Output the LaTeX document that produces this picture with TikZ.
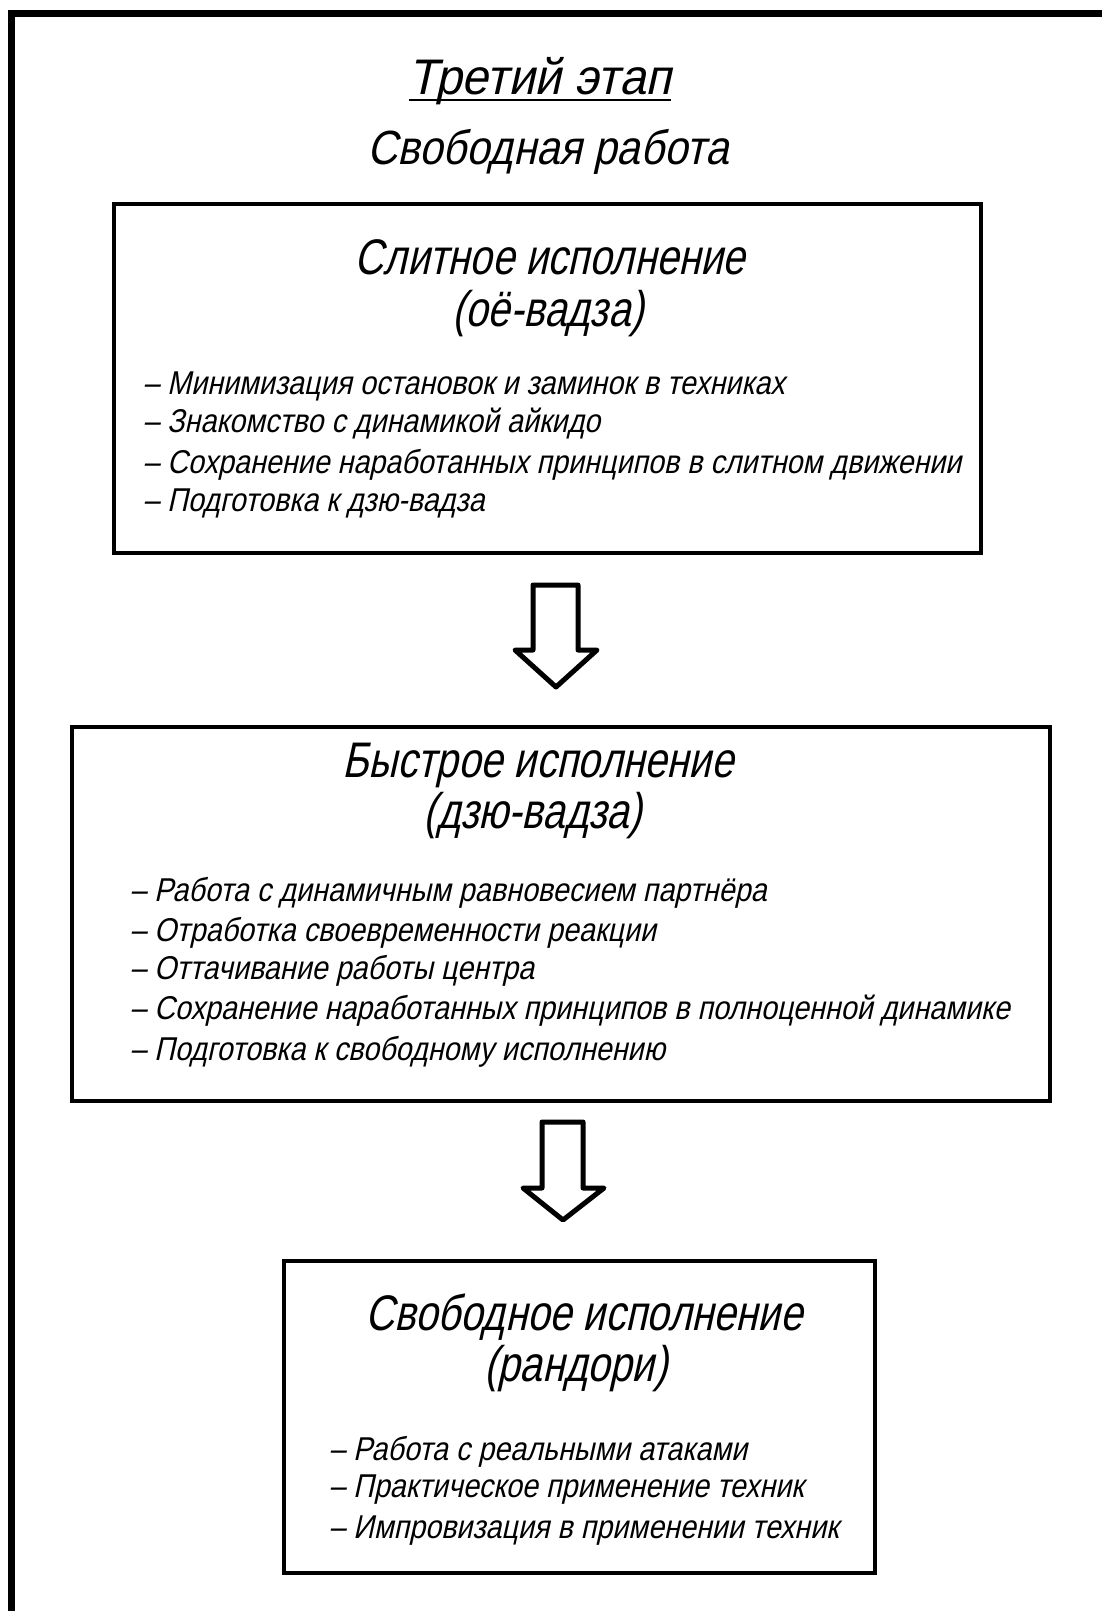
\documentclass[tikz,border=0pt]{standalone}
\usepackage{fontspec}
\newfontfamily\gost{Liberation Sans}[FakeStretch=0.8,FakeSlant=0.22]
\newfontfamily\gostb{Liberation Sans}[FakeStretch=0.87,FakeSlant=0.22]
\newfontfamily\gostw{Liberation Sans}[FakeStretch=0.95,FakeSlant=0.22]
\begin{document}
\begin{tikzpicture}[x=1pt,y=-1pt,
  frame/.style={line width=7pt,line cap=rect},
  boxstyle/.style={draw,line width=3.5pt,inner sep=0pt},
  bigarrow/.style={draw,line width=5pt,line join=round,fill=white},
  ttl/.style={inner sep=0pt,anchor=base},
  btitle/.style={font=\gost\fontsize{50}{54}\selectfont,inner sep=0pt,anchor=base},
  item/.style={font=\gostb\fontsize{33}{36}\selectfont,inner sep=0pt,anchor=base west}]
\useasboundingbox (0,0) rectangle (1102,1611);
% outer frame (only top and left edges visible)
\coordinate (fbl) at (11,1630);
\coordinate (ftl) at (11,14);
\coordinate (ftr) at (1120,14);
\draw[frame] (fbl) -- (ftl) -- (ftr);
% headings
\node[ttl,font=\gostw\fontsize{50}{54}\selectfont] (t1) at (540,94) {Третий этап};
\draw[line width=2pt] ([yshift=-6pt]t1.base west) -- ([yshift=-6pt]t1.base east);
\node[ttl,font=\gostb\fontsize{48}{52}\selectfont] (t2) at (548,164) {Свободная работа};
% box 1
\node[boxstyle,minimum width=867pt,minimum height=349pt] (b1) at (547.5,378.5) {};
\node[btitle] (b1a) at (550,274) {Слитное исполнение};
\node[btitle] (b1b) at (548,326) {(оё-вадза)};
\node[item] (b1i1) at (143,394) {– Минимизация остановок и заминок в техниках};
\node[item] (b1i2) at (143,432) {– Знакомство с динамикой айкидо};
\node[item] (b1i3) at (143,473) {– Сохранение наработанных принципов в слитном движении};
\node[item] (b1i4) at (143,511) {– Подготовка к дзю-вадза};
% arrow 1
\draw[bigarrow] (533,585) -- (578,585) -- (578,650) -- (597,650) -- (556,687) -- (515,650) -- (533,650) -- cycle;
% box 2
\node[boxstyle,minimum width=978pt,minimum height=374pt] (b2) at (561,914) {};
\node[btitle] (b2a) at (538,777) {Быстрое исполнение};
\node[btitle] (b2b) at (533,828) {(дзю-вадза)};
\node[item] (b2i1) at (130,901) {– Работа с динамичным равновесием партнёра};
\node[item] (b2i2) at (130,941) {– Отработка своевременности реакции};
\node[item] (b2i3) at (130,979) {– Оттачивание работы центра};
\node[item] (b2i4) at (130,1019) {– Сохранение наработанных принципов в полноценной динамике};
\node[item] (b2i5) at (130,1060) {– Подготовка к свободному исполнению};
% arrow 2
\draw[bigarrow] (542,1122) -- (583,1122) -- (583,1188) -- (604,1188) -- (563,1220) -- (523,1188) -- (542,1188) -- cycle;
% box 3
\node[boxstyle,minimum width=591pt,minimum height=312pt] (b3) at (579.5,1417) {};
\node[btitle] (b3a) at (584,1330) {Свободное исполнение};
\node[btitle] (b3b) at (576,1381) {(рандори)};
\node[item] (b3i1) at (329,1460) {– Работа с реальными атаками};
\node[item] (b3i2) at (329,1497) {– Практическое применение техник};
\node[item] (b3i3) at (329,1538) {– Импровизация в применении техник};
\end{tikzpicture}
\end{document}
